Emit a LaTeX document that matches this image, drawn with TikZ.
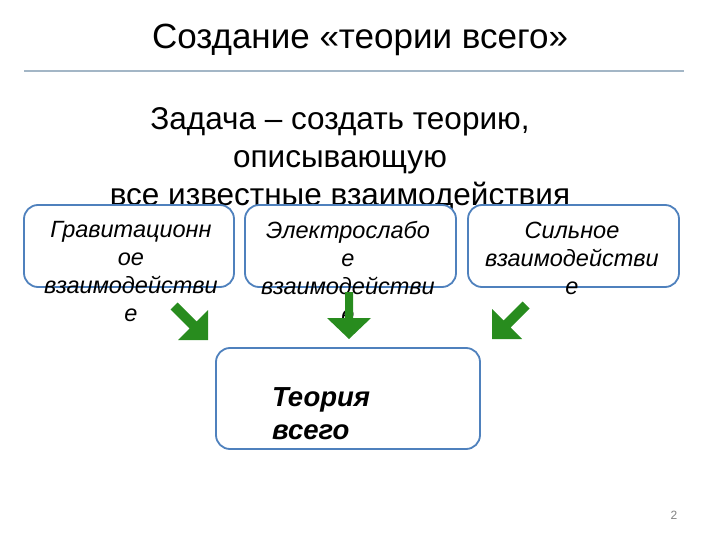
\documentclass[tikz,border=0pt]{standalone}
\usepackage{fontspec}
\setmainfont{Liberation Sans}
\definecolor{boxblue}{RGB}{79,129,189}
\definecolor{rulegray}{RGB}{163,182,198}
\definecolor{arrgreen}{RGB}{40,140,30}
\definecolor{pagegray}{RGB}{130,130,130}
\begin{document}
\begin{tikzpicture}[x=1pt,y=-1pt,
  panel/.style={draw=boxblue, line width=1.8pt, rounded corners=14pt, fill=white, inner sep=0pt},
  paneltext/.style={font=\itshape\fontsize{23.5}{28}\selectfont, align=center, inner sep=0pt},
  subtitle/.style={font=\fontsize{31.5}{36}\selectfont, inner sep=0pt, anchor=base},
  blockarrow/.style={fill=arrgreen, draw=none}]
\useasboundingbox (0,0) rectangle (720,540);
% title
\node[font=\fontsize{35}{40}\selectfont, inner sep=0pt, anchor=base] (title) at (360,49) {Создание «теории всего»};
\draw[rulegray, line width=2pt] (24,71) -- (684,71);
% subtitle
\node[subtitle] (task1) at (340,130) {Задача – создать теорию,};
\node[subtitle] (task2) at (340,168) {описывающую};
\node[subtitle] (task3) at (340,206) {все известные взаимодействия};
% boxes
\node[panel, minimum width=210pt, minimum height=82pt] (grav) at (129,246) {};
\node[panel, minimum width=211pt, minimum height=82pt] (ew) at (350.5,246) {};
\node[panel, minimum width=211pt, minimum height=82pt] (strong) at (573.5,246) {};
\node[panel, minimum width=264pt, minimum height=101pt] (toe) at (348,398.5) {};
% box texts
\node[paneltext] (gravt) at (131,272) {Гравитационн\\ое\\взаимодействи\\е};
\node[paneltext] (ewt) at (348,272) {Электрослабо\\е\\взаимодействи\\е};
\node[paneltext] (strongt) at (572,258) {Сильное\\взаимодействи\\е};
\node[font=\bfseries\itshape\fontsize{27.5}{33}\selectfont, align=left, inner sep=0pt, anchor=west] (toet) at (272,414) {Теория\\всего};
% arrows
\fill[blockarrow] (177.5,302.5) -- (196.5,321.5) -- (208,310) -- (208,340) -- (178,340) -- (189.5,328.5) -- (170.5,309.5) -- cycle;
\fill[blockarrow] (345,292) -- (353,292) -- (353,318) -- (371,318) -- (349,339) -- (327,318) -- (345,318) -- cycle;
\fill[blockarrow] (522.5,301.5) -- (503.5,320.5) -- (492,309) -- (492,339) -- (522,339) -- (510.5,327.5) -- (529.5,308.5) -- cycle;
% page number
\node[font=\fontsize{12}{14}\selectfont, text=pagegray, inner sep=0pt] (pg) at (674,515) {2};
\end{tikzpicture}
\end{document}
